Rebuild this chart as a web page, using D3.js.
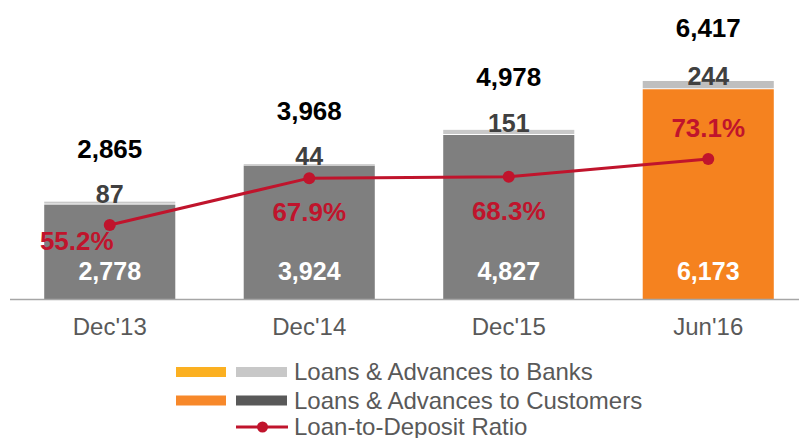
<!DOCTYPE html>
<html>
<head>
<meta charset="utf-8">
<script src="https://cdn.jsdelivr.net/npm/d3@7/dist/d3.min.js"></script>
<style>
  html, body { margin: 0; padding: 0; background: #fff; }
  svg { display: block; font-family: Arial, "Liberation Sans", sans-serif; }
</style>
</head>
<body>
<svg id="chart" width="799" height="438"></svg>
<script>
// Loans by period (AED mn) and loan-to-deposit ratio (%)
const periods = ["Dec'13", "Dec'14", "Dec'15", "Jun'16"];
const customerLoans = [2778, 3924, 4827, 6173];
const bankLoans = [87, 44, 151, 244];
const totalLoans = [2865, 3968, 4978, 6417];
const ldrRatio = [55.2, 67.9, 68.3, 73.1];
const legendLabels = ["Loans & Advances to Banks", "Loans & Advances to Customers", "Loan-to-Deposit Ratio"];

// Where each ratio label sits relative to its point
const ratioLabelPlacement = ["below-left", "below", "below", "above"];

const svg = d3.select("#chart");
const fmt = d3.format(",");
const pct = d => d.toFixed(1) + "%";

const highlight = i => periods[i] === "Jun'16";
const colors = {
  customer: "#7f7f7f",
  bank: "#c8c8c8",
  customerHi: "#f5821f",
  bankHi: "#bfbfbf",
  line: "#c0142c",
  axis: "#a6a6a6",
  axisText: "#595959",
  bankText: "#404040"
};

const x = d3.scaleBand().domain(periods).range([10, 808])
  .paddingInner(0.343).paddingOuter(0.1715);
const y = d3.scaleLinear().domain([0, 8800]).range([299, 0]);
const y2 = d3.scaleLinear().domain([0, 100]).range([428.5, 59.8]);

const g = svg.append("g");

// Customer loans (bottom segment)
g.selectAll("rect.cust").data(periods).join("rect")
  .attr("class", "cust")
  .attr("x", d => x(d))
  .attr("width", x.bandwidth())
  .attr("y", (d, i) => y(customerLoans[i]))
  .attr("height", (d, i) => y(0) - y(customerLoans[i]))
  .attr("fill", (d, i) => highlight(i) ? colors.customerHi : colors.customer);

// Bank loans (top segment), separated by a thin white gap
g.selectAll("rect.bank").data(periods).join("rect")
  .attr("class", "bank")
  .attr("x", d => x(d))
  .attr("width", x.bandwidth())
  .attr("y", (d, i) => y(customerLoans[i] + bankLoans[i]))
  .attr("height", (d, i) => Math.max(1.5, y(customerLoans[i]) - y(customerLoans[i] + bankLoans[i]) - 1))
  .attr("fill", (d, i) => highlight(i) ? colors.bankHi : colors.bank);

// Baseline
svg.append("line")
  .attr("x1", 10).attr("x2", 799)
  .attr("y1", y(0) + 0.5).attr("y2", y(0) + 0.5)
  .attr("stroke", colors.axis).attr("stroke-width", 1.6);

// Category axis
const xAxis = svg.append("g")
  .attr("transform", `translate(0,${y(0)})`)
  .call(d3.axisBottom(x).tickSize(0).tickPadding(0));
xAxis.select(".domain").remove();
xAxis.selectAll("text")
  .attr("dy", null)
  .attr("y", 36)
  .attr("fill", colors.axisText)
  .style("font-family", "Arial, 'Liberation Sans', sans-serif")
  .style("font-size", "24px");

const cx = d => x(d) + x.bandwidth() / 2;

// Totals above each bar
g.selectAll("text.total").data(periods).join("text")
  .attr("class", "total")
  .attr("x", cx)
  .attr("y", (d, i) => y(totalLoans[i]) - 44)
  .attr("text-anchor", "middle")
  .attr("font-size", 26).attr("font-weight", "bold")
  .attr("fill", "#000")
  .text((d, i) => fmt(totalLoans[i]));

// Bank loan values
g.selectAll("text.bankv").data(periods).join("text")
  .attr("class", "bankv")
  .attr("x", cx)
  .attr("y", (d, i) => y(customerLoans[i] + bankLoans[i] / 2))
  .attr("text-anchor", "middle")
  .attr("font-size", 25).attr("font-weight", "bold")
  .attr("fill", colors.bankText)
  .text((d, i) => fmt(bankLoans[i]));

// Customer loan values inside bars
g.selectAll("text.custv").data(periods).join("text")
  .attr("class", "custv")
  .attr("x", cx)
  .attr("y", y(0) - 19)
  .attr("text-anchor", "middle")
  .attr("font-size", 25).attr("font-weight", "bold")
  .attr("fill", "#fff")
  .text((d, i) => fmt(customerLoans[i]));

// Loan-to-deposit ratio line
const line = d3.line().x(d => cx(d)).y((d, i) => y2(ldrRatio[i]));
g.append("path")
  .datum(periods)
  .attr("d", line)
  .attr("fill", "none")
  .attr("stroke", colors.line)
  .attr("stroke-width", 3);

g.selectAll("circle.ldr").data(periods).join("circle")
  .attr("class", "ldr")
  .attr("cx", cx)
  .attr("cy", (d, i) => y2(ldrRatio[i]))
  .attr("r", 6)
  .attr("fill", colors.line);

const labelOffset = {
  "below-left": [-33, 25],
  "below": [0, 43],
  "above": [0, -22]
};
g.selectAll("text.ldrv").data(periods).join("text")
  .attr("class", "ldrv")
  .attr("x", (d, i) => cx(d) + labelOffset[ratioLabelPlacement[i]][0])
  .attr("y", (d, i) => y2(ldrRatio[i]) + labelOffset[ratioLabelPlacement[i]][1])
  .attr("text-anchor", "middle")
  .attr("font-size", 26).attr("font-weight", "bold")
  .attr("fill", colors.line)
  .text((d, i) => pct(ldrRatio[i]));

// Legend
const legend = svg.append("g");
const rows = [372, 400.5, 427];
const swatchH = 10;
// Banks row
legend.append("rect").attr("x", 176).attr("y", rows[0] - swatchH / 2).attr("width", 50).attr("height", swatchH).attr("fill", "#fbb021");
legend.append("rect").attr("x", 236).attr("y", rows[0] - swatchH / 2).attr("width", 51).attr("height", swatchH).attr("fill", colors.bank);
// Customers row
legend.append("rect").attr("x", 176).attr("y", rows[1] - swatchH / 2).attr("width", 50).attr("height", swatchH).attr("fill", "#f7882a");
legend.append("rect").attr("x", 236).attr("y", rows[1] - swatchH / 2).attr("width", 51).attr("height", swatchH).attr("fill", "#595959");
// Ratio row
legend.append("line").attr("x1", 236).attr("x2", 288).attr("y1", rows[2]).attr("y2", rows[2])
  .attr("stroke", colors.line).attr("stroke-width", 3);
legend.append("circle").attr("cx", 262.5).attr("cy", rows[2]).attr("r", 5.5).attr("fill", colors.line);

legend.selectAll("text").data(legendLabels).join("text")
  .attr("x", 294)
  .attr("y", (d, i) => rows[i] + 8)
  .attr("font-size", 24)
  .attr("fill", colors.axisText)
  .text(d => d);
</script>
</body>
</html>
